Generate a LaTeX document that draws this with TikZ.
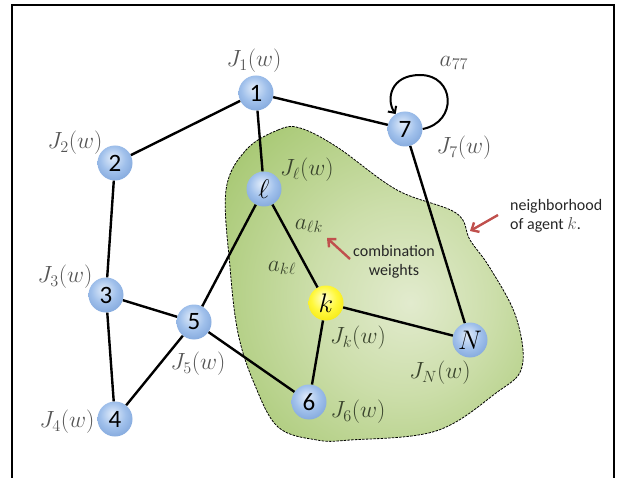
\documentclass[tikz,border=0pt]{standalone}
\usepackage{fontspec}
\newfontfamily\carlitofont{Carlito}
\usetikzlibrary{arrows.meta}
\newcommand\biglbl[1]{\scalebox{1.13}{$#1$}}
\newcommand\bigsym[1]{\scalebox{1.08}{$#1$}}
\definecolor{arrred}{RGB}{192,80,77}
\definecolor{lblgray}{RGB}{85,85,85}
\definecolor{lblin}{RGB}{58,68,45}
\definecolor{bA}{RGB}{225,236,250}
\definecolor{bB}{RGB}{160,192,235}
\definecolor{bC}{RGB}{115,155,212}
\definecolor{bD}{RGB}{85,125,190}
\definecolor{bE}{RGB}{70,105,165}
\definecolor{yA}{RGB}{255,255,205}
\definecolor{yB}{RGB}{255,248,60}
\definecolor{yC}{RGB}{240,225,0}
\definecolor{yD}{RGB}{205,185,0}
\definecolor{yE}{RGB}{175,155,0}
\definecolor{gA}{RGB}{226,235,206}
\definecolor{gB}{RGB}{204,222,170}
\definecolor{gC}{RGB}{172,203,122}
\definecolor{gD}{RGB}{140,182,80}
\definecolor{gE}{RGB}{105,155,45}
\definecolor{gF}{RGB}{90,140,35}
\pgfdeclareradialshading{agentball}{\pgfpoint{-4bp}{8bp}}{%
  color(0bp)=(bA); color(18bp)=(bB); color(38bp)=(bC); color(50bp)=(bD); color(62bp)=(bE)}
\pgfdeclareradialshading{agentyellow}{\pgfpoint{-4bp}{8bp}}{%
  color(0bp)=(yA); color(18bp)=(yB); color(38bp)=(yC); color(50bp)=(yD); color(62bp)=(yE)}
\pgfdeclareradialshading{blobshade}{\pgfpoint{6bp}{-3bp}}{%
  color(0bp)=(gA); color(15bp)=(gB); color(32bp)=(gC); color(46bp)=(gD); color(60bp)=(gE); color(75bp)=(gF)}
\tikzset{
  agent/.style={circle, minimum size=35pt, inner sep=0pt, shading=agentball, font=\carlitofont\fontsize{25}{25}\selectfont},
  agentk/.style={agent, shading=agentyellow},
  edge/.style={line width=2.4pt, black},
  lbl/.style={text=lblgray, font=\fontsize{20}{22}\selectfont},
  lblinside/.style={lbl, text=lblin},
  note/.style={font=\carlitofont\fontsize{16}{18}\selectfont, text=black!85, align=left, inner sep=0pt},
  redarr/.style={draw=arrred, line width=2.4pt, -{Straight Barb[length=6pt,width=11pt]}}
}
\begin{document}
\begin{tikzpicture}[x=1pt,y=-1pt]
\useasboundingbox (0,0) rectangle (618,478);
% frame
\draw[line width=1.5pt] (12,478) -- (12,5) -- (614,5) -- (614,478);
% neighborhood blob
\path[shading=blobshade, draw=black, line width=0.8pt, dash pattern=on 2.5pt off 1.2pt]
  plot[smooth cycle, tension=0.6] coordinates {
  (246,150) (278,130) (300,128) (337,147) (397,190) (456,213) (470,240) (490,268) (516,317) (522,367) (496,393) (436,431) (350,440) (317,440) (278,427) (254,383) (238,333) (230,267) (226,190)};
% nodes
\node[agent] (n1) at (256,93) {1};
\node[agent] (n2) at (115,163) {2};
\node[agent] (n3) at (106,295) {3};
\node[agent] (n4) at (115,419) {4};
\node[agent] (n5) at (194,322) {5};
\node[agent] (nl) at (264,189) {\bigsym{\ell}};
\node[agentk] (nk) at (326,303) {\bigsym{k}};
\node[agent] (n6) at (309,402) {6};
\node[agent] (nN) at (470,340) {\bigsym{N}};
\node[agent] (n7) at (405,129) {7};
% edges
\draw[edge] (n1) -- (n2);
\draw[edge] (n1) -- (n7);
\draw[edge] (n1) -- (nl);
\draw[edge] (n2) -- (n3);
\draw[edge] (n3) -- (n5);
\draw[edge] (n3) -- (n4);
\draw[edge] (n4) -- (n5);
\draw[edge] (n5) -- (nl);
\draw[edge] (n5) -- (n6);
\draw[edge] (nl) -- (nk);
\draw[edge] (nk) -- (nN);
\draw[edge] (nk) -- (n6);
\draw[edge] (n7) -- (nN);
% self loop
\draw[edge, line width=2pt, -{Straight Barb[length=5pt,width=10pt]}] (n7.east) .. controls (458,122) and (455,75) .. (420,75) .. controls (390,75) and (386,100) .. (n7.122);
% labels
\node[lbl] (l1) at (254,61) {\biglbl{J_1(w)}};
\node[lbl] (a77) at (454,63) {\biglbl{a_{77}}};
\node[lbl] (l2) at (75,143) {\biglbl{J_2(w)}};
\node[lbl] (l7) at (464,148) {\biglbl{J_7(w)}};
\node[lblinside] (ll) at (307,170) {\biglbl{J_\ell(w)}};
\node[lblinside] (alk) at (309,226) {\biglbl{a_{\ell k}}};
\node[lblinside] (akl) at (282,268) {\biglbl{a_{k\ell}}};
\node[lbl] (l3) at (65,277) {\biglbl{J_3(w)}};
\node[lbl] (l5) at (198,364) {\biglbl{J_5(w)}};
\node[lblinside] (lk) at (358,338) {\biglbl{J_k(w)}};
\node[lblinside] (lN) at (440,373) {\biglbl{J_N(w)}};
\node[lblinside] (l6) at (358,412) {\biglbl{J_6(w)}};
\node[lbl] (l4) at (67,422) {\biglbl{J_4(w)}};
% notes
\node[note, align=center] (comb) at (394,262) {combination\\[1pt]weights};
\node[note, anchor=west] (neigh) at (510,216) {neighborhood\\[1pt]of agent {\color{lblgray}\fontsize{19}{19}\selectfont$k$}.};
\coordinate (cbt) at (327,238);
\coordinate (cbs) at (350,259);
\coordinate (nbt) at (470,231);
\coordinate (nbs) at (498,215);
\draw[redarr] (cbs) -- (cbt);
\draw[redarr] (nbs) -- (nbt);
\end{tikzpicture}
\end{document}
